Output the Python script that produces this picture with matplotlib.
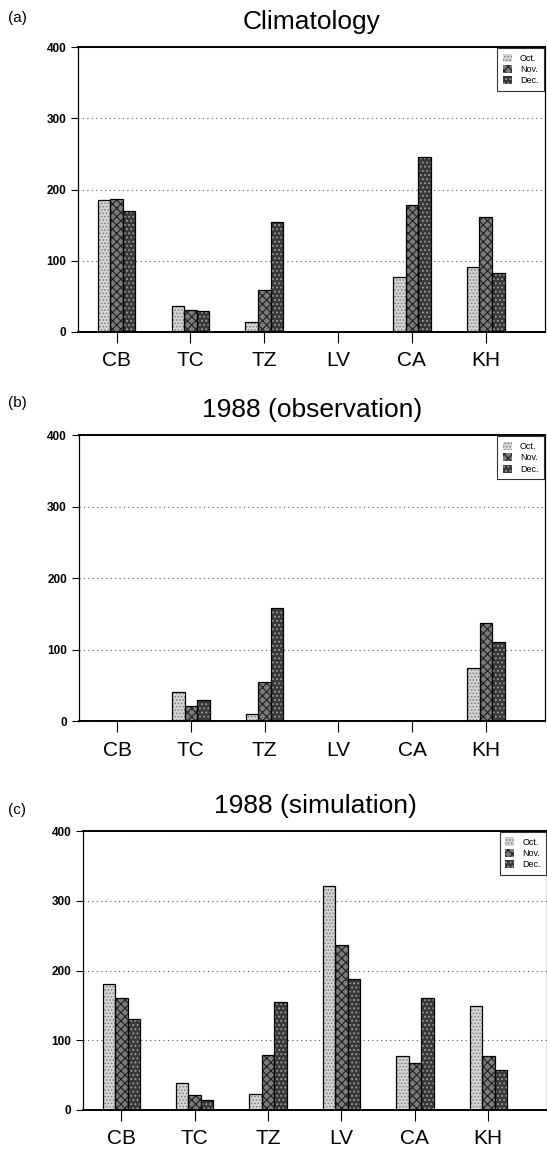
import numpy as np
import matplotlib
matplotlib.use("Agg")
import matplotlib.pyplot as plt

plt.rcParams['font.family'] = ['Liberation Sans', 'DejaVu Sans']
plt.rcParams['hatch.linewidth'] = 0.8

stations = ['CB', 'TC', 'TZ', 'LV', 'CA', 'KH']
months = ['Oct.', 'Nov.', 'Dec.']

# (a) climatology
clim_oct = [185, 36, 14, 0, 77, 91]
clim_nov = [186, 30, 59, 0, 178, 162]
clim_dec = [170, 29, 155, 0, 246, 82]
# (b) 1988 observation
obs_oct = [0, 41, 10, 0, 0, 75]
obs_nov = [0, 21, 55, 0, 0, 137]
obs_dec = [0, 30, 159, 0, 0, 111]
# (c) 1988 simulation
sim_oct = [181, 39, 23, 321, 78, 149]
sim_nov = [161, 22, 79, 236, 68, 78]
sim_dec = [130, 14, 155, 188, 161, 57]

titles = ['Climatology', '1988 (observation)', '1988 (simulation)']
tags = ['(a)', '(b)', '(c)']
panels = [(clim_oct, clim_nov, clim_dec),
          (obs_oct, obs_nov, obs_dec),
          (sim_oct, sim_nov, sim_dec)]

# face colour, hatch, hatch colour for each month
styles = [('#d6d6d6', '.....', '#808080'),
          ('#7c7c7c', 'xxxx', '#1e1e1e'),
          ('#383838', '....', '#a0a0a0')]

boxes = [[0.143, 0.712, 0.853, 0.247],
         [0.144, 0.374, 0.852, 0.248],
         [0.152, 0.0365, 0.848, 0.242]]
tag_y = [0.984, 0.650, 0.297]

fig = plt.figure(figsize=(5.47, 11.52), dpi=100)

x = np.arange(len(stations))
w = 0.17

for k in range(3):
    ax = fig.add_axes(boxes[k])
    handles = []
    for m in range(3):
        face, hatch, hcol = styles[m]
        vals = panels[k][m]
        pos = x + (m - 1) * w
        b = ax.bar(pos, vals, w, color=face, hatch=hatch, edgecolor=hcol,
                   linewidth=0, label=months[m], zorder=2)
        ax.bar(pos, vals, w, fill=False, edgecolor='black', linewidth=0.9, zorder=3)
        handles.append(b)

    ax.set_xlim(-0.52, 5.8)
    ax.set_ylim(0, 400)
    ax.set_yticks([0, 100, 200, 300, 400])
    ax.set_xticks(x)
    ax.set_xticklabels(stations, fontsize=15)
    ax.tick_params(axis='y', labelsize=8.5, direction='out', length=5, width=0.8)
    ax.tick_params(axis='x', direction='out', length=8, width=0.8, pad=6)
    for t in ax.get_yticklabels():
        t.set_fontweight('bold')

    ax.yaxis.grid(True, linestyle=(0, (1, 3)), color='#555555', linewidth=0.8)
    ax.set_axisbelow(True)
    for s in ['left', 'top', 'right', 'bottom']:
        ax.spines[s].set_color('black')
    ax.spines['top'].set_linewidth(1.4)
    ax.spines['bottom'].set_linewidth(1.4)
    ax.spines['left'].set_linewidth(0.9)
    ax.spines['right'].set_linewidth(0.9)

    ax.set_title(titles[k], fontsize=19, pad=13)
    fig.text(0.015, tag_y[k], tags[k], fontsize=11, va='center', ha='left')

    leg = ax.legend(handles=handles, loc='upper right', fontsize=6.5,
                    frameon=True, fancybox=False, borderpad=0.6,
                    handlelength=1.0, handleheight=1.0, handletextpad=0.9,
                    labelspacing=0.25, borderaxespad=0.1)
    leg.get_frame().set_edgecolor('black')
    leg.get_frame().set_linewidth(0.8)

fig.savefig('out.png', dpi=100)
